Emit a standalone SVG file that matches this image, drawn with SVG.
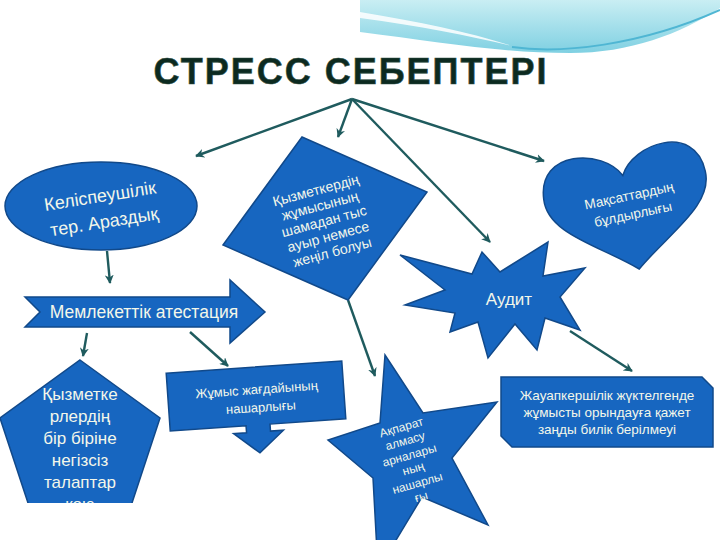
<svg xmlns="http://www.w3.org/2000/svg" width="720" height="540" viewBox="0 0 720 540">
  <defs>
    <linearGradient id="band" x1="0" y1="0" x2="0" y2="1">
      <stop offset="0" stop-color="#c9eef3"/>
      <stop offset="1" stop-color="#7fd0e2"/>
    </linearGradient>
    <marker id="ah" viewBox="0 0 10 10" refX="9" refY="5" markerWidth="9" markerHeight="9" markerUnits="userSpaceOnUse" orient="auto">
      <path d="M0,0 L10,5 L0,10 L3,5 Z" fill="#1f5b5e"/>
    </marker>
    <clipPath id="cutBottom">
      <rect x="0" y="0" width="720" height="503"/>
    </clipPath>
  </defs>
  <style>
    .shape { fill: #1766c0; stroke: #11498a; stroke-width: 1.5; }
    .lbl { fill: #f3f7ea; font-family: "Liberation Sans", Arial, sans-serif; text-anchor: middle; }
    .conn { stroke: #1f5b5e; stroke-width: 2.4; fill: none; marker-end: url(#ah); }
  </style>
  <rect width="720" height="540" fill="#ffffff"/>

  <g id="header">
    <path d="M360,0 L720,0 L720,8 C 680,34 630,53 570,53 C 500,53 440,42 360,32 Z" fill="url(#band)"/>
    <path d="M360,12 C 420,22 470,32 512,46 C 470,36 420,26 360,18 Z" fill="#ffffff" opacity="0.85"/>
    <path d="M512,47 C 560,54 640,46 720,10" stroke="#4fb6d3" stroke-width="2" fill="none"/>
    <text x="351" y="84" font-family="'Liberation Sans', Arial, sans-serif" font-weight="bold" font-size="36" letter-spacing="2" text-anchor="middle" fill="#0c2a20" stroke="#2f4f44" stroke-width="0.6">СТРЕСС СЕБЕПТЕРІ</text>
  </g>

  <g id="connectors">
    <line class="conn" x1="352" y1="99" x2="196" y2="156"/>
    <line class="conn" x1="352" y1="99" x2="338" y2="137"/>
    <line class="conn" x1="352" y1="99" x2="490" y2="242"/>
    <line class="conn" x1="352" y1="99" x2="544" y2="161"/>
    <line class="conn" x1="107" y1="251" x2="110" y2="283"/>
    <line class="conn" x1="87" y1="333" x2="83" y2="356"/>
    <line class="conn" x1="190" y1="332" x2="228" y2="366"/>
    <line class="conn" x1="348" y1="300" x2="375" y2="376"/>
    <line class="conn" x1="570" y1="331" x2="632" y2="371"/>
  </g>

  <g id="node-kelispeushilik">
    <ellipse class="shape" cx="101" cy="206" rx="96" ry="44" stroke-width="2"/>
    <g transform="translate(102,208) rotate(-9)">
      <text class="lbl" x="0" y="-6" font-size="18">Келіспеушілік</text>
      <text class="lbl" x="0" y="20" font-size="18">тер. Араздық</text>
    </g>
  </g>

  <g id="node-kyzmetker">
    <polygon class="shape" points="302,137 427,192 348,300 223,245"/>
    <g transform="translate(324,221) rotate(-15)" font-size="14">
      <text class="lbl" x="0" y="-27">Қызметкердің</text>
      <text class="lbl" x="0" y="-11">жұмысының</text>
      <text class="lbl" x="0" y="5">шамадан тыс</text>
      <text class="lbl" x="0" y="21">ауыр немесе</text>
      <text class="lbl" x="0" y="37">жеңіл болуы</text>
    </g>
  </g>

  <g id="node-maksat">
    <path class="shape" transform="translate(628,205) rotate(-10)" d="M0,-30 C -15,-60 -80,-70 -82,-20 C -84,15 -35,35 0,65 C 35,35 84,15 82,-20 C 80,-70 15,-60 0,-30 Z"/>
    <g transform="translate(631,205) rotate(-12)" font-size="13.5">
      <text class="lbl" x="0" y="-5">Мақсаттардың</text>
      <text class="lbl" x="0" y="14">бұлдырлығы</text>
    </g>
  </g>

  <g id="node-audit">
    <polygon class="shape" points="400,255 472,274 482,252 500,272 548,242 543,276 585,268 560,297 580,330 545,318 537,350 515,324 488,358 478,322 450,332 455,313 405,305 445,290"/>
    <text class="lbl" x="509" y="305" font-size="17">Аудит</text>
  </g>

  <g id="node-attestation">
    <polygon class="shape" points="25,297 230,297 230,280 265,312 230,343 230,327 25,327 40,312"/>
    <text class="lbl" x="144" y="318" font-size="17.5">Мемлекеттік атестация</text>
  </g>

  <g id="node-talaptar" clip-path="url(#cutBottom)">
    <polygon class="shape" points="80,360 160,418 129,512 31,512 0,418"/>
    <g font-size="17">
      <text class="lbl" x="80" y="400">Қызметке</text>
      <text class="lbl" x="80" y="422">рлердің</text>
      <text class="lbl" x="80" y="444">бір біріне</text>
      <text class="lbl" x="80" y="466">негізсіз</text>
      <text class="lbl" x="80" y="488">талаптар</text>
      <text class="lbl" x="80" y="510">қою</text>
    </g>
  </g>

  <g id="node-zhumys">
    <path class="shape" transform="translate(256,396) rotate(-4)" d="M-88,-29 H88 V29 H12 V36 H25 L0,57 L-25,36 H-12 V29 H-88 Z"/>
    <g transform="translate(256,396) rotate(-4)" font-size="13">
      <text class="lbl" x="1" y="-2">Жұмыс жағдайының</text>
      <text class="lbl" x="4" y="16">нашарлығы</text>
    </g>
  </g>

  <g id="node-akparat">
    <polygon class="shape" points="385,355 423,413 497,402 452,458 488,525 422,497 378,570 373,478 328,440 380,423"/>
    <g transform="translate(411,461) rotate(-16)" font-size="12">
      <text class="lbl" x="0" y="-31">Ақпарат</text>
      <text class="lbl" x="0" y="-17">алмасу</text>
      <text class="lbl" x="0" y="-2">арналары</text>
      <text class="lbl" x="0" y="12">ның</text>
      <text class="lbl" x="0" y="27">нашарлы</text>
      <text class="lbl" x="0" y="41">ғы</text>
    </g>
  </g>

  <g id="node-zhauapkershilik">
    <path class="shape" d="M501,377 H702 L713,388 V447 H512 L501,436 Z"/>
    <g font-size="13.5">
      <text class="lbl" x="607" y="400">Жауапкершілік жүктелгенде</text>
      <text class="lbl" x="607" y="417">жұмысты орындауға қажет</text>
      <text class="lbl" x="607" y="434">заңды билік берілмеуі</text>
    </g>
  </g>
</svg>
